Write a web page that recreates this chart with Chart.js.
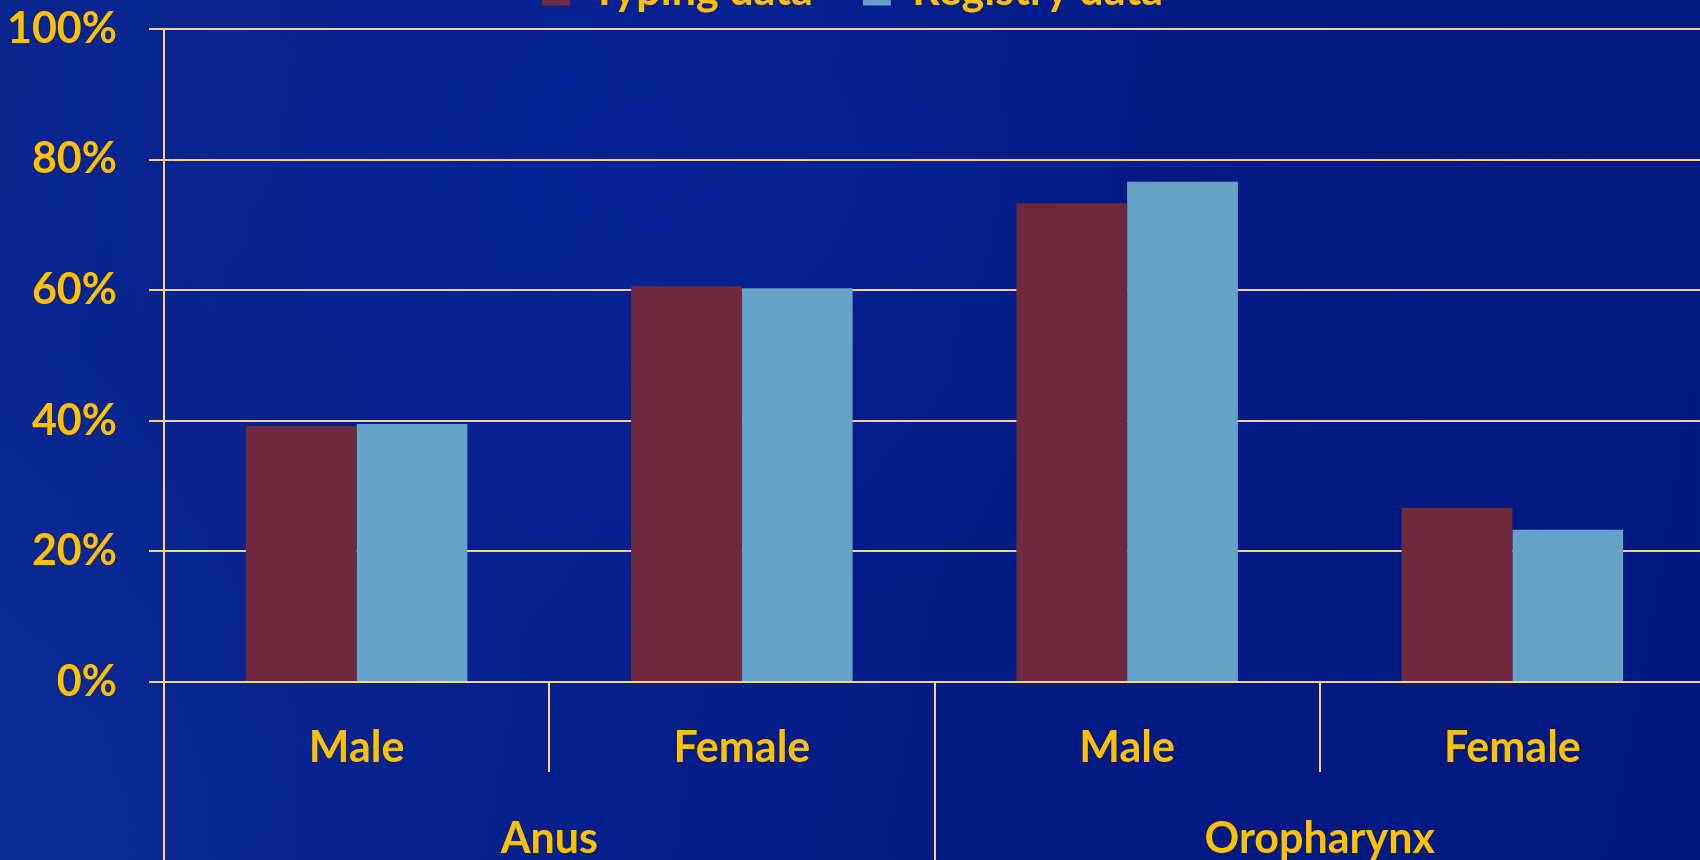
<!DOCTYPE html>
<html>
<head>
<meta charset="utf-8">
<title>Typing data vs Registry data</title>
<script src="https://cdn.jsdelivr.net/npm/chart.js@4.4.1/dist/chart.umd.min.js"></script>
<style>
  html, body { margin: 0; padding: 0; width: 1700px; height: 860px; overflow: hidden; }
  body {
    position: relative;
    background:
      radial-gradient(ellipse 600px 480px at 640px 160px, rgba(10, 40, 165, 0.3), rgba(10, 40, 165, 0)),
      radial-gradient(ellipse 420px 520px at 0px 860px, rgba(20, 55, 160, 0.35), rgba(20, 55, 160, 0)),
      linear-gradient(100deg, #08268e 0%, #05218d 30%, #021b84 65%, #00187f 100%);
  }
  #chart { position: absolute; left: 0; top: -80px; }
</style>
</head>
<body>
<canvas id="chart" width="1706" height="940"></canvas>
<script>
// categories
const sexLabels = ['Male', 'Female', 'Male', 'Female'];
const siteLabels = ['Anus', 'Oropharynx'];

// series values (%)
const typingData = [39.2, 60.6, 73.3, 26.7];
const registryData = [39.5, 60.3, 76.6, 23.3];

// y tick labels
const yTicks = [0, 20, 40, 60, 80, 100];

const gold = '#FFC000';
const lineCol = '#FFD08C';

Chart.defaults.font.family = 'Lato, "Open Sans", sans-serif';
Chart.defaults.font.weight = 'bold';
Chart.defaults.font.size = 43;
Chart.defaults.color = gold;

// a little more room under the legend
const legendGap = {
  id: 'legendGap',
  beforeInit(chart) {
    const fit = chart.legend.fit;
    chart.legend.fit = function () {
      fit.bind(chart.legend)();
      this.height += 6;
    };
  }
};

new Chart(document.getElementById('chart').getContext('2d'), {
  type: 'bar',
  data: {
    labels: sexLabels,
    datasets: [
      {
        label: 'Typing data',
        data: typingData,
        backgroundColor: '#6E293E',
        borderWidth: 0,
        xAxisID: 'x'
      },
      {
        label: 'Registry data',
        data: registryData,
        backgroundColor: '#66A1C8',
        borderWidth: 0,
        xAxisID: 'x'
      }
    ]
  },
  options: {
    responsive: false,
    animation: false,
    datasets: {
      bar: { categoryPercentage: 0.575, barPercentage: 1 }
    },
    layout: { padding: { top: 0, left: 0, right: 1, bottom: 0 } },
    plugins: {
      tooltip: { enabled: false },
      legend: {
        position: 'top',
        labels: {
          boxWidth: 28,
          boxHeight: 28,
          padding: 50,
          color: gold,
          font: { size: 43, weight: 'bold' }
        }
      }
    },
    scales: {
      y: {
        min: 0,
        max: 100,
        afterFit: s => { s.width = 164; },
        afterBuildTicks: s => { s.ticks = yTicks.map(v => ({ value: v })); },
        ticks: {
          padding: 32,
          color: gold,
          callback: v => v + '%'
        },
        grid: { color: lineCol, lineWidth: 2, tickLength: 15 },
        border: { display: true, color: lineCol, width: 2 }
      },
      x: {
        type: 'category',
        position: 'bottom',
        offset: true,
        afterFit: s => { s.height = 90; },
        ticks: { padding: -50, color: gold, maxRotation: 0, autoSkip: false },
        grid: { offset: true, drawOnChartArea: false, color: lineCol, lineWidth: 2, tickLength: 90 },
        border: { display: true, color: lineCol, width: 2 }
      },
      x2: {
        type: 'category',
        position: 'bottom',
        labels: siteLabels,
        offset: true,
        afterFit: s => { s.height = 88; },
        ticks: { padding: -159, color: gold, maxRotation: 0, autoSkip: false },
        grid: { offset: true, drawOnChartArea: false, color: lineCol, lineWidth: 2, tickLength: 200 },
        border: { display: false }
      }
    }
  },
  plugins: [legendGap]
});
</script>
</body>
</html>
